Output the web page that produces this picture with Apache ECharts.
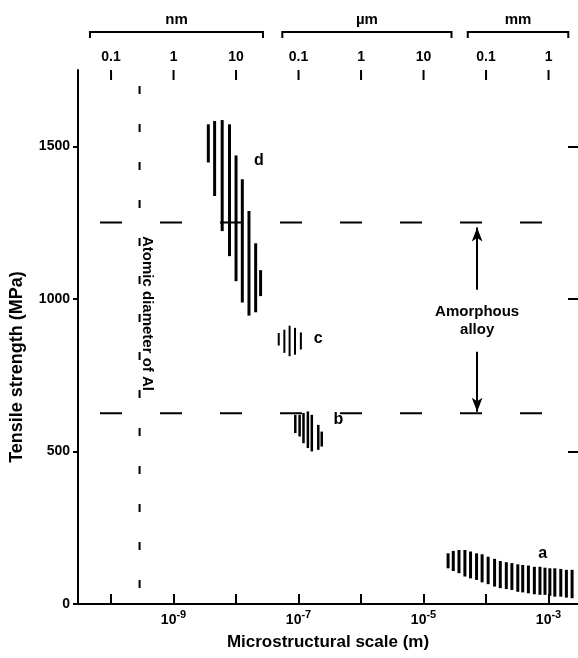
<!DOCTYPE html>
<html><head><meta charset="utf-8">
<script src="https://cdn.jsdelivr.net/npm/echarts@6/dist/echarts.min.js"></script>
<style>html,body{margin:0;padding:0;background:#fff}#c{width:578px;height:658px}</style>
</head><body><div id="c"></div><script>
// ---- axes ----
const X_MIN = 2.96e-11, X_MAX = 2.96e-3;
const Y_MIN = 0, Y_MAX = 1750;
const xTickValues = [1e-10, 1e-9, 1e-8, 1e-7, 1e-6, 1e-5, 1e-4, 1e-3];
const xLabelValues = [1e-9, 1e-7, 1e-5, 1e-3];
const xLabelExp = ['-9', '-7', '-5', '-3'];
const topLabelText = ['0.1', '1', '10', '0.1', '1', '10', '0.1', '1'];
const yTickValues = [0, 500, 1000, 1500];
const yRightTicks = [500, 1000, 1500];
const unitNames = ['nm', 'µm', 'mm'];
const unitStart = [4.6e-11, 5.5e-8, 5.1e-5];
const unitEnd = [2.7e-8, 2.8e-5, 2.07e-3];

// ---- data bands (x in m, strength range in MPa) ----
const dX = [3.60e-9, 4.54e-9, 6.0e-9, 7.85e-9, 1.0e-8, 1.26e-8, 1.61e-8, 2.06e-8, 2.47e-8];
const dLow = [1447, 1337, 1222, 1140, 1058, 988, 945, 956, 1009];
const dHigh = [1572, 1583, 1586, 1572, 1470, 1392, 1288, 1182, 1094];

const cX = [4.82e-8, 5.93e-8, 7.19e-8, 8.77e-8, 1.09e-7];
const cLow = [847, 823, 812, 817, 834];
const cHigh = [888, 899, 912, 905, 890];

const bX = [8.87e-8, 1.04e-7, 1.20e-7, 1.41e-7, 1.63e-7, 2.07e-7, 2.35e-7];
const bLow = [560, 549, 527, 511, 500, 505, 516];
const bHigh = [620, 620, 626, 631, 620, 587, 565];

const aX = [2.47e-5, 2.99e-5, 3.69e-5, 4.59e-5, 5.65e-5, 7.05e-5, 8.65e-5, 1.08e-4, 1.37e-4, 1.69e-4, 2.11e-4, 2.59e-4, 3.22e-4, 3.86e-4, 4.76e-4, 5.93e-4, 7.29e-4, 8.77e-4, 1.05e-3, 1.26e-3, 1.57e-3, 1.93e-3, 2.38e-3];
const aLow = [117, 108, 101, 90, 84, 79, 71, 65, 57, 52, 49, 46, 40, 38, 35, 32, 30, 30, 27, 24, 24, 21, 19];
const aHigh = [166, 174, 177, 177, 172, 166, 163, 155, 148, 141, 137, 134, 130, 128, 126, 122, 122, 119, 117, 117, 115, 112, 112];

// ---- labels & reference lines ----
const seriesLabels = ['d', 'c', 'b', 'a'];
const seriesLabelX = [2.31e-8, 2.07e-7, 4.32e-7, 8.04e-4];
const seriesLabelY = [1452, 869, 604, 166];
const amorphousLevels = [1250, 625];
const atomicDiameterAl = 2.86e-10;
const amorphousX = 7.2e-5;
const amorphousTextY = 929;
const arrowUp = [1030, 1234];
const arrowDown = [827, 630];
const atomicTextPos = [3.75e-10, 952];

const FONT = 'Liberation Sans, Arial, Helvetica, sans-serif';

function idxOf(vals, v) {
  for (let i = 0; i < vals.length; i++) {
    if (Math.abs(Math.log10(vals[i]) - Math.log10(v)) < 1e-6) return i;
  }
  return -1;
}
function barRender(width) {
  return function (params, api) {
    const p1 = api.coord([api.value(0), api.value(1)]);
    const p2 = api.coord([api.value(0), api.value(2)]);
    return { type: 'line', shape: { x1: p1[0], y1: p1[1], x2: p2[0], y2: p2[1] },
      style: { stroke: '#000', lineWidth: width } };
  };
}
function band(name, xs, lo, hi, w) {
  return { type: 'custom', name: name, renderItem: barRender(w), silent: true,
    encode: { x: 0, y: [1, 2] }, data: xs.map((x, i) => [x, lo[i], hi[i]]) };
}

const chart = echarts.init(document.getElementById('c'), null, { renderer: 'canvas' });
const axisLineStyle = { color: '#000', width: 2 };
const option = {
  animation: false,
  backgroundColor: '#fff',
  textStyle: { fontFamily: FONT },
  grid: { left: 76, right: -2, top: 70, bottom: 54 },
  xAxis: [
    { type: 'log', logBase: 10, min: X_MIN, max: X_MAX, position: 'bottom',
      name: 'Microstructural scale (m)', nameLocation: 'middle', nameGap: 30,
      nameTextStyle: { fontFamily: FONT, fontWeight: 'bold', fontSize: 17, color: '#000' },
      axisLine: { show: true, lineStyle: axisLineStyle },
      axisTick: { show: true, inside: true, length: 10, customValues: xTickValues, lineStyle: axisLineStyle },
      axisLabel: { show: true, customValues: xLabelValues, margin: 5, color: '#000',
        formatter: function (v) { const i = idxOf(xLabelValues, v); return i < 0 ? '' : '{b|10}{s|' + xLabelExp[i] + '}'; },
        rich: { b: { fontFamily: FONT, fontSize: 14, fontWeight: 'bold', color: '#000', verticalAlign: 'bottom' },
                s: { fontFamily: FONT, fontSize: 11, fontWeight: 'bold', color: '#000', verticalAlign: 'top', padding: [0, 0, 7, 0] } } },
      splitLine: { show: false }, minorTick: { show: false } },
    { type: 'log', logBase: 10, min: X_MIN, max: X_MAX, position: 'top',
      axisLine: { show: true, lineStyle: axisLineStyle },
      axisTick: { show: false },
      axisLabel: { show: true, customValues: xTickValues, margin: 6,
        fontFamily: FONT, fontSize: 14, fontWeight: 'bold', color: '#000',
        formatter: function (v) { const i = idxOf(xTickValues, v); return i < 0 ? '' : topLabelText[i]; } },
      splitLine: { show: false } }
  ],
  yAxis: [
    { type: 'value', min: Y_MIN, max: Y_MAX, position: 'left',
      name: 'Tensile strength (MPa)', nameLocation: 'middle', nameGap: 52, nameRotate: 90,
      nameTextStyle: { fontFamily: FONT, fontWeight: 'bold', fontSize: 18, color: '#000', padding: [0, 60, 0, 0] },
      axisLine: { show: true, lineStyle: axisLineStyle },
      axisTick: { show: true, inside: false, length: 5, customValues: yTickValues, lineStyle: axisLineStyle },
      axisLabel: { show: true, customValues: yTickValues, margin: 8, fontFamily: FONT, fontSize: 14, fontWeight: 'bold', color: '#000',
        formatter: function (v) { return String(v); } },
      splitLine: { show: false } },
    { type: 'value', min: Y_MIN, max: Y_MAX, position: 'right',
      axisLine: { show: false },
      axisTick: { show: true, inside: true, length: 10, customValues: yRightTicks, lineStyle: axisLineStyle },
      axisLabel: { show: false }, splitLine: { show: false } }
  ],
  series: [
    band('d', dX, dLow, dHigh, 3),
    band('c', cX, cLow, cHigh, 2),
    band('b', bX, bLow, bHigh, 2.5),
    band('a', aX, aLow, aHigh, 3),
    ...amorphousLevels.map(lv => ({ type: 'line', silent: true, symbol: 'none',
      data: [[X_MIN, lv], [X_MAX, lv]],
      lineStyle: { color: '#000', width: 2, type: [22, 38], dashOffset: 38 } })),
    { type: 'line', silent: true, symbol: 'none',
      data: [[atomicDiameterAl, Y_MIN], [atomicDiameterAl, Y_MAX]],
      lineStyle: { color: '#000', width: 2, type: [8, 30], dashOffset: 22 } },
    { type: 'scatter', silent: true, symbolSize: 0, itemStyle: { opacity: 1 },
      data: seriesLabels.map((t, i) => ({ value: [seriesLabelX[i], seriesLabelY[i]], name: t })),
      label: { show: true, position: 'inside', formatter: '{b}', fontFamily: FONT, fontSize: 16, fontWeight: 'bold', color: '#000' } },
    { type: 'scatter', silent: true, symbolSize: 0, itemStyle: { opacity: 1 },
      data: [{ value: [amorphousX, amorphousTextY], name: 'Amorphous\nalloy' }],
      label: { show: true, position: 'inside', formatter: '{b}', fontFamily: FONT, fontSize: 15, fontWeight: 'bold', color: '#000', lineHeight: 18, align: 'center' },
      markLine: { silent: true, symbol: ['none', 'arrow'], symbolSize: [8, 14], label: { show: false },
        lineStyle: { color: '#000', width: 2, type: 'solid' },
        data: [
          [{ coord: [amorphousX, arrowUp[0]] }, { coord: [amorphousX, arrowUp[1]] }],
          [{ coord: [amorphousX, arrowDown[0]] }, { coord: [amorphousX, arrowDown[1]] }]
        ] } },
    { type: 'scatter', silent: true, symbolSize: 0, itemStyle: { opacity: 1 },
      data: [{ value: atomicTextPos, name: 'Atomic diameter of Al' }],
      label: { show: true, position: 'inside', rotate: -90, formatter: '{b}', fontFamily: FONT, fontSize: 15, fontWeight: 'bold', color: '#000' } },
    // inward ticks of the top axis
    { type: 'custom', silent: true, xAxisIndex: 1, clip: false,
      data: xTickValues.map(v => [v]),
      renderItem: function (params, api) {
        const p = api.coord([api.value(0), Y_MAX]);
        return { type: 'line', shape: { x1: p[0], y1: p[1], x2: p[0], y2: p[1] + 10 },
          style: { stroke: '#000', lineWidth: 2 } };
      } },
    // unit brackets above the top axis
    { type: 'custom', silent: true, xAxisIndex: 1, clip: false,
      data: unitNames.map((n, i) => [unitStart[i], unitEnd[i], n]),
      renderItem: function (params, api) {
        const p1 = api.coord([api.value(0), Y_MAX]);
        const p2 = api.coord([api.value(1), Y_MAX]);
        const y = p1[1] - 38;
        const name = unitNames[params.dataIndex];
        return { type: 'group', children: [
          { type: 'polyline', shape: { points: [[p1[0], y + 6], [p1[0], y], [p2[0], y], [p2[0], y + 6]] },
            style: { stroke: '#000', lineWidth: 2, fill: null } },
          { type: 'text', x: (p1[0] + p2[0]) / 2, y: y - 12,
            style: { text: name, fontFamily: FONT, fontSize: 15, fontWeight: 'bold', fill: '#000', align: 'center', verticalAlign: 'middle' } }
        ] };
      } }
  ]
};
chart.setOption(option);
</script></body></html>
